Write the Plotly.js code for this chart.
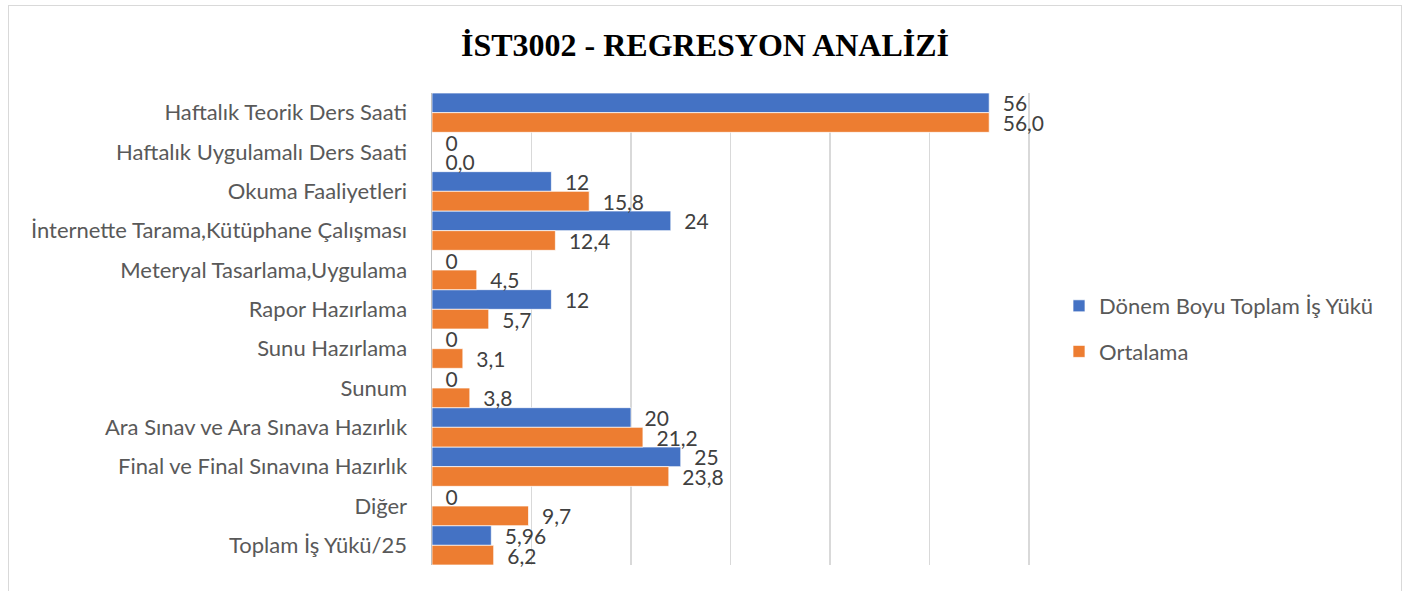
<!DOCTYPE html>
<html>
<head>
<meta charset="utf-8">
<script src="https://cdn.plot.ly/plotly-3.0.1.min.js"></script>
<style>
  html, body { margin: 0; padding: 0; background: #fff; }
  #frame { position: absolute; left: 8px; top: 5px; width: 1394px; height: 600px; border: 1px solid #d9d9d9; box-sizing: border-box; pointer-events: none; }
  #chart { position: absolute; left: 0; top: 0; width: 1410px; height: 591px; }
</style>
</head>
<body>
<div id="chart"></div>
<div id="frame"></div>
<script>
const categories = [
  "Haftalık Teorik Ders Saati",
  "Haftalık Uygulamalı Ders Saati",
  "Okuma Faaliyetleri",
  "İnternette Tarama,Kütüphane Çalışması",
  "Meteryal Tasarlama,Uygulama",
  "Rapor Hazırlama",
  "Sunu Hazırlama",
  "Sunum",
  "Ara Sınav ve Ara Sınava Hazırlık",
  "Final ve Final Sınavına Hazırlık",
  "Diğer",
  "Toplam İş Yükü/25"
];
const seriesNames = ["Dönem Boyu Toplam İş Yükü", "Ortalama"];
const donemValues = [56, 0, 12, 24, 0, 12, 0, 0, 20, 25, 0, 5.96];
const ortalamaValues = [56.0, 0.0, 15.8, 12.4, 4.5, 5.7, 3.1, 3.8, 21.2, 23.8, 9.7, 6.2];
const xTicks = [0, 10, 20, 30, 40, 50, 60];

const donemText = donemValues.map(v => String(v).replace('.', ','));
const ortalamaText = ortalamaValues.map(v => v.toFixed(1).replace('.', ','));

const labelFont = { family: "Lato, 'Noto Sans', sans-serif", size: 21, color: "#404040" };

const traces = [
  {
    type: "bar", orientation: "h", name: seriesNames[0],
    y: categories, x: donemValues, text: donemText,
    texttemplate: "\u2002%{text}", textposition: "outside", cliponaxis: false,
    constraintext: "none",
    textfont: labelFont, legendgroup: "a",
    marker: { color: "#4472C4", line: { color: "rgba(255,255,255,0.7)", width: 1 } },
    hoverinfo: "x+y"
  },
  {
    type: "bar", orientation: "h", name: seriesNames[1],
    y: categories, x: ortalamaValues, text: ortalamaText,
    texttemplate: "\u2002%{text}", textposition: "outside", cliponaxis: false,
    constraintext: "none",
    textfont: labelFont, legendgroup: "b",
    marker: { color: "#ED7D31", line: { color: "rgba(255,255,255,0.7)", width: 1 } },
    hoverinfo: "x+y"
  }
];

const layout = {
  width: 1410, height: 591,
  margin: { l: 432, r: 378, t: 93, b: 26, pad: 0 },
  paper_bgcolor: "rgba(0,0,0,0)", plot_bgcolor: "rgba(0,0,0,0)",
  barmode: "group", bargap: 0.0, bargroupgap: 0,
  title: {
    text: "<b>İST3002 - REGRESYON ANALİZİ</b>",
    font: { family: "'Liberation Serif', 'Times New Roman', serif", size: 32, color: "#000" },
    x: 0.5, xref: "container", xanchor: "center",
    y: 1 - 45 / 591, yref: "container", yanchor: "middle"
  },
  xaxis: {
    range: [0, 60.3], tickvals: xTicks, showticklabels: false,
    showgrid: true, gridcolor: "#d9d9d9", gridwidth: 1.5,
    zeroline: false, showline: false, ticks: "", fixedrange: true
  },
  yaxis: {
    type: "category", autorange: "reversed",
    showline: true, linecolor: "#bfbfbf", linewidth: 1.5,
    showgrid: false, ticks: "", ticklabelstandoff: 19,
    tickfont: { family: "Lato, 'Noto Sans', sans-serif", size: 22, color: "#595959" },
    fixedrange: true
  },
  showlegend: true,
  legend: {
    x: 1.045, xanchor: "left", y: 0.5, yanchor: "middle",
    traceorder: "grouped", tracegroupgap: 14,
    font: { family: "Lato, 'Noto Sans', sans-serif", size: 22, color: "#595959" },
    bgcolor: "rgba(0,0,0,0)"
  },
  font: { family: "Lato, sans-serif", color: "#595959" }
};

Plotly.newPlot("chart", traces, layout, { displayModeBar: false, staticPlot: true });
</script>
</body>
</html>
